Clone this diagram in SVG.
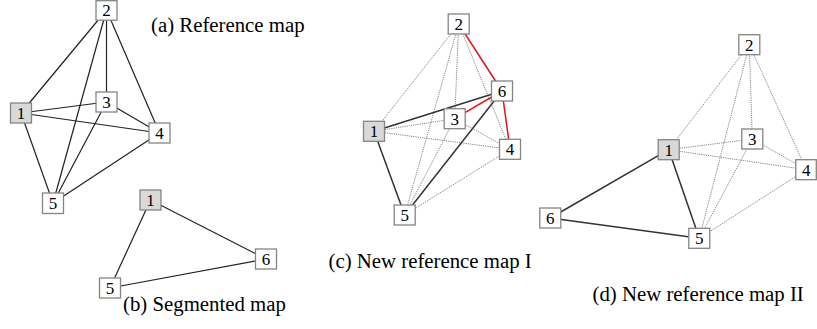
<svg xmlns="http://www.w3.org/2000/svg" width="817" height="329" viewBox="0 0 817 329">
<style>
.n rect{fill:#fff;stroke:#858585;stroke-width:1.3}
.n.g rect{fill:#d9d9d9}
.n text{font-family:"Liberation Serif",serif;font-size:17px;text-anchor:middle;fill:#000}
.lab{font-family:"Liberation Serif",serif;font-size:20.8px;fill:#000}
.s{stroke:#222;stroke-width:1.2;fill:none}
.k{stroke:#333;stroke-width:1.5;fill:none}
.r{stroke:#e8141b;stroke-width:1.5;fill:none}
.d{stroke:#777;stroke-width:0.9;stroke-dasharray:1.2 1;fill:none}
</style>
<rect width="817" height="329" fill="#fff"/>
<g id="connectors">
<!-- (a) -->
<line class="s" x1="106.5" y1="10" x2="21" y2="113"/>
<line class="s" x1="106.5" y1="10" x2="106.5" y2="102"/>
<line class="s" x1="106.5" y1="10" x2="159.5" y2="133"/>
<line class="s" x1="106.5" y1="10" x2="53" y2="203"/>
<line class="s" x1="21" y1="113" x2="106.5" y2="102"/>
<line class="s" x1="21" y1="113" x2="159.5" y2="133"/>
<line class="s" x1="21" y1="113" x2="53" y2="203"/>
<line class="s" x1="106.5" y1="102" x2="159.5" y2="133"/>
<line class="s" x1="106.5" y1="102" x2="53" y2="203"/>
<line class="s" x1="159.5" y1="133" x2="53" y2="203"/>
<!-- (b) -->
<line class="s" x1="150.5" y1="200" x2="266" y2="259"/>
<line class="s" x1="150.5" y1="200" x2="110" y2="288"/>
<line class="s" x1="110" y1="288" x2="266" y2="259"/>
<!-- (c) -->
<line class="d" x1="458.7" y1="24" x2="374" y2="131.3"/>
<line class="d" x1="458.7" y1="24" x2="454.7" y2="118.7"/>
<line class="d" x1="458.7" y1="24" x2="510" y2="149.3"/>
<line class="d" x1="458.7" y1="24" x2="404.7" y2="215"/>
<line class="d" x1="374" y1="131.3" x2="454.7" y2="118.7"/>
<line class="d" x1="374" y1="131.3" x2="510" y2="149.3"/>
<line class="d" x1="454.7" y1="118.7" x2="510" y2="149.3"/>
<line class="d" x1="454.7" y1="118.7" x2="404.7" y2="215"/>
<line class="d" x1="510" y1="149.3" x2="404.7" y2="215"/>
<line class="k" x1="374" y1="131.3" x2="502" y2="91"/>
<line class="k" x1="374" y1="131.3" x2="404.7" y2="215"/>
<line class="k" x1="404.7" y1="215" x2="502" y2="91"/>
<line class="r" x1="458.7" y1="24" x2="502" y2="91"/>
<line class="r" x1="454.7" y1="118.7" x2="502" y2="91"/>
<line class="r" x1="502" y1="91" x2="510" y2="149.3"/>
<!-- (d) -->
<line class="d" x1="749.3" y1="44.7" x2="668.7" y2="149.7"/>
<line class="d" x1="749.3" y1="44.7" x2="752.3" y2="139"/>
<line class="d" x1="749.3" y1="44.7" x2="806.3" y2="169.7"/>
<line class="d" x1="749.3" y1="44.7" x2="699.3" y2="238.3"/>
<line class="d" x1="668.7" y1="149.7" x2="752.3" y2="139"/>
<line class="d" x1="668.7" y1="149.7" x2="806.3" y2="169.7"/>
<line class="d" x1="752.3" y1="139" x2="806.3" y2="169.7"/>
<line class="d" x1="752.3" y1="139" x2="699.3" y2="238.3"/>
<line class="d" x1="806.3" y1="169.7" x2="699.3" y2="238.3"/>
<line class="k" x1="668.7" y1="149.7" x2="550.3" y2="218"/>
<line class="k" x1="668.7" y1="149.7" x2="699.3" y2="238.3"/>
<line class="k" x1="550.3" y1="218" x2="699.3" y2="238.3"/>
</g>
<!-- (a) nodes -->
<g id="a1" class="n g"><rect x="10.5" y="103" width="21" height="20"/><text x="21" y="119">1</text></g>
<g id="a2" class="n"><rect x="96" y="0.7" width="21" height="19.5"/><text x="106.5" y="16">2</text></g>
<g id="a3" class="n"><rect x="96" y="92" width="21" height="20"/><text x="106.5" y="108">3</text></g>
<g id="a4" class="n"><rect x="149" y="123" width="21" height="20"/><text x="159.5" y="139">4</text></g>
<g id="a5" class="n"><rect x="42.5" y="193" width="21" height="20.5"/><text x="53" y="209">5</text></g>
<!-- (b) nodes -->
<g id="b1" class="n g"><rect x="140" y="190" width="21" height="20"/><text x="150.5" y="206">1</text></g>
<g id="b6" class="n"><rect x="255.5" y="249" width="21" height="20"/><text x="266" y="265">6</text></g>
<g id="b5" class="n"><rect x="99.5" y="278" width="21" height="20"/><text x="110" y="294">5</text></g>
<!-- (c) nodes -->
<g id="c1" class="n g"><rect x="363.5" y="121.3" width="21" height="20"/><text x="374" y="137.3">1</text></g>
<g id="c2" class="n"><rect x="448.2" y="14" width="21" height="20"/><text x="458.7" y="30">2</text></g>
<g id="c3" class="n"><rect x="444.2" y="108.7" width="21" height="20"/><text x="454.7" y="124.7">3</text></g>
<g id="c4" class="n"><rect x="499.5" y="139.3" width="21" height="20"/><text x="510" y="155.3">4</text></g>
<g id="c5" class="n"><rect x="394.2" y="205" width="21" height="20"/><text x="404.7" y="221">5</text></g>
<g id="c6" class="n"><rect x="491.5" y="81" width="21" height="20"/><text x="502" y="97">6</text></g>
<!-- (d) nodes -->
<g id="d1" class="n g"><rect x="658.2" y="139.7" width="21" height="20"/><text x="668.7" y="155.7">1</text></g>
<g id="d2" class="n"><rect x="738.8" y="34.7" width="21" height="20"/><text x="749.3" y="50.7">2</text></g>
<g id="d3" class="n"><rect x="741.8" y="129" width="21" height="20"/><text x="752.3" y="145">3</text></g>
<g id="d4" class="n"><rect x="795.8" y="159.7" width="20.5" height="20"/><text x="806.3" y="175.7">4</text></g>
<g id="d5" class="n"><rect x="688.8" y="228.3" width="21" height="20"/><text x="699.3" y="244.3">5</text></g>
<g id="d6" class="n"><rect x="539.8" y="208" width="21" height="20"/><text x="550.3" y="224">6</text></g>
<g id="labels">
<text class="lab" x="151" y="31.5">(a) Reference map</text>
<text class="lab" x="123" y="311">(b) Segmented map</text>
<text class="lab" x="328.5" y="268">(c) New reference map I</text>
<text class="lab" x="592.5" y="301">(d) New reference map II</text>
</g>
</svg>
